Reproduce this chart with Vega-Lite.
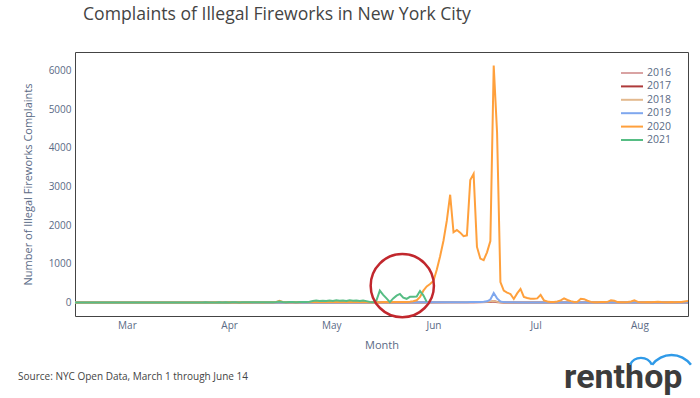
{
"$schema":"https://vega.github.io/schema/vega-lite/v6.json",
"width":613,"height":264,
"autosize":{"type":"none"},
"padding":{"left":75,"top":52,"right":12,"bottom":82},
"background":"white",
"config":{"font":"Open Sans","view":{"stroke":"#444","strokeWidth":1}},
"title":{"text":"Complaints of Illegal Fireworks in New York City","anchor":"start","frame":"group","fontSize":17.6,"fontWeight":"normal","color":"#444","dx":8,"offset":28},
"layer":[
{"data":{"format":{"parse":{"date":"date"}},"values":[
{"date":"2021/03/01","year":"2016","n":2},{"date":"2021/03/15","year":"2016","n":3},{"date":"2021/03/29","year":"2016","n":2},{"date":"2021/04/12","year":"2016","n":4},{"date":"2021/04/26","year":"2016","n":3},{"date":"2021/05/10","year":"2016","n":5},{"date":"2021/05/24","year":"2016","n":6},{"date":"2021/06/07","year":"2016","n":5},{"date":"2021/06/21","year":"2016","n":8},{"date":"2021/06/28","year":"2016","n":10},{"date":"2021/07/01","year":"2016","n":12},{"date":"2021/07/02","year":"2016","n":15},{"date":"2021/07/03","year":"2016","n":18},{"date":"2021/07/04","year":"2016","n":30},{"date":"2021/07/05","year":"2016","n":12},{"date":"2021/07/06","year":"2016","n":8},{"date":"2021/07/07","year":"2016","n":5},{"date":"2021/07/19","year":"2016","n":4},{"date":"2021/08/02","year":"2016","n":3},{"date":"2021/08/16","year":"2016","n":3},{"date":"2021/08/31","year":"2016","n":2},
{"date":"2021/03/01","year":"2017","n":3},{"date":"2021/03/15","year":"2017","n":2},{"date":"2021/03/29","year":"2017","n":4},{"date":"2021/04/12","year":"2017","n":3},{"date":"2021/04/26","year":"2017","n":5},{"date":"2021/05/10","year":"2017","n":4},{"date":"2021/05/24","year":"2017","n":6},{"date":"2021/06/07","year":"2017","n":7},{"date":"2021/06/21","year":"2017","n":9},{"date":"2021/06/28","year":"2017","n":12},{"date":"2021/07/01","year":"2017","n":14},{"date":"2021/07/02","year":"2017","n":16},{"date":"2021/07/03","year":"2017","n":20},{"date":"2021/07/04","year":"2017","n":35},{"date":"2021/07/05","year":"2017","n":15},{"date":"2021/07/06","year":"2017","n":9},{"date":"2021/07/07","year":"2017","n":6},{"date":"2021/07/19","year":"2017","n":4},{"date":"2021/08/02","year":"2017","n":4},{"date":"2021/08/16","year":"2017","n":3},{"date":"2021/08/31","year":"2017","n":2},
{"date":"2021/03/01","year":"2018","n":2},{"date":"2021/03/15","year":"2018","n":3},{"date":"2021/03/29","year":"2018","n":3},{"date":"2021/04/12","year":"2018","n":4},{"date":"2021/04/26","year":"2018","n":4},{"date":"2021/05/10","year":"2018","n":6},{"date":"2021/05/24","year":"2018","n":5},{"date":"2021/06/07","year":"2018","n":7},{"date":"2021/06/21","year":"2018","n":10},{"date":"2021/06/28","year":"2018","n":14},{"date":"2021/07/01","year":"2018","n":18},{"date":"2021/07/02","year":"2018","n":22},{"date":"2021/07/03","year":"2018","n":28},{"date":"2021/07/04","year":"2018","n":45},{"date":"2021/07/05","year":"2018","n":20},{"date":"2021/07/06","year":"2018","n":12},{"date":"2021/07/07","year":"2018","n":7},{"date":"2021/07/19","year":"2018","n":5},{"date":"2021/08/02","year":"2018","n":4},{"date":"2021/08/16","year":"2018","n":3},{"date":"2021/08/31","year":"2018","n":3},
{"date":"2021/03/01","year":"2019","n":2},{"date":"2021/03/08","year":"2019","n":3},{"date":"2021/03/15","year":"2019","n":2},{"date":"2021/03/22","year":"2019","n":4},{"date":"2021/03/29","year":"2019","n":3},{"date":"2021/04/05","year":"2019","n":4},{"date":"2021/04/12","year":"2019","n":5},{"date":"2021/04/19","year":"2019","n":4},{"date":"2021/04/26","year":"2019","n":6},{"date":"2021/05/03","year":"2019","n":5},{"date":"2021/05/10","year":"2019","n":6},{"date":"2021/05/17","year":"2019","n":7},{"date":"2021/05/24","year":"2019","n":6},{"date":"2021/05/31","year":"2019","n":8},{"date":"2021/06/07","year":"2019","n":7},{"date":"2021/06/14","year":"2019","n":9},{"date":"2021/06/19","year":"2019","n":8},{"date":"2021/06/20","year":"2019","n":10},{"date":"2021/06/21","year":"2019","n":12},{"date":"2021/06/22","year":"2019","n":9},{"date":"2021/06/23","year":"2019","n":8},{"date":"2021/06/24","year":"2019","n":10},{"date":"2021/06/25","year":"2019","n":11},{"date":"2021/06/26","year":"2019","n":9},{"date":"2021/06/27","year":"2019","n":14},{"date":"2021/06/28","year":"2019","n":16},{"date":"2021/06/29","year":"2019","n":15},{"date":"2021/06/30","year":"2019","n":20},{"date":"2021/07/01","year":"2019","n":22},{"date":"2021/07/02","year":"2019","n":35},{"date":"2021/07/03","year":"2019","n":80},{"date":"2021/07/04","year":"2019","n":250},{"date":"2021/07/05","year":"2019","n":110},{"date":"2021/07/06","year":"2019","n":30},{"date":"2021/07/07","year":"2019","n":14},{"date":"2021/07/08","year":"2019","n":10},{"date":"2021/07/09","year":"2019","n":8},{"date":"2021/07/13","year":"2019","n":6},{"date":"2021/07/17","year":"2019","n":5},{"date":"2021/07/21","year":"2019","n":6},{"date":"2021/07/25","year":"2019","n":4},{"date":"2021/07/29","year":"2019","n":5},{"date":"2021/08/02","year":"2019","n":4},{"date":"2021/08/06","year":"2019","n":3},{"date":"2021/08/10","year":"2019","n":4},{"date":"2021/08/14","year":"2019","n":3},{"date":"2021/08/18","year":"2019","n":3},{"date":"2021/08/22","year":"2019","n":2},{"date":"2021/08/26","year":"2019","n":3},{"date":"2021/08/31","year":"2019","n":2},
{"date":"2021/03/01","year":"2020","n":3},{"date":"2021/03/02","year":"2020","n":2},{"date":"2021/03/03","year":"2020","n":4},{"date":"2021/03/04","year":"2020","n":3},{"date":"2021/03/05","year":"2020","n":5},{"date":"2021/03/06","year":"2020","n":4},{"date":"2021/03/07","year":"2020","n":3},{"date":"2021/03/08","year":"2020","n":2},{"date":"2021/03/09","year":"2020","n":4},{"date":"2021/03/10","year":"2020","n":5},{"date":"2021/03/11","year":"2020","n":3},{"date":"2021/03/12","year":"2020","n":4},{"date":"2021/03/13","year":"2020","n":2},{"date":"2021/03/14","year":"2020","n":3},{"date":"2021/03/15","year":"2020","n":5},{"date":"2021/03/16","year":"2020","n":4},{"date":"2021/03/17","year":"2020","n":3},{"date":"2021/03/18","year":"2020","n":6},{"date":"2021/03/19","year":"2020","n":4},{"date":"2021/03/20","year":"2020","n":3},{"date":"2021/03/21","year":"2020","n":5},{"date":"2021/03/22","year":"2020","n":4},{"date":"2021/03/23","year":"2020","n":6},{"date":"2021/03/24","year":"2020","n":3},{"date":"2021/03/25","year":"2020","n":4},{"date":"2021/03/26","year":"2020","n":5},{"date":"2021/03/27","year":"2020","n":3},{"date":"2021/03/28","year":"2020","n":4},{"date":"2021/03/29","year":"2020","n":6},{"date":"2021/03/30","year":"2020","n":5},{"date":"2021/03/31","year":"2020","n":4},
{"date":"2021/04/01","year":"2020","n":5},{"date":"2021/04/02","year":"2020","n":4},{"date":"2021/04/03","year":"2020","n":6},{"date":"2021/04/04","year":"2020","n":5},{"date":"2021/04/05","year":"2020","n":7},{"date":"2021/04/06","year":"2020","n":5},{"date":"2021/04/07","year":"2020","n":6},{"date":"2021/04/08","year":"2020","n":4},{"date":"2021/04/09","year":"2020","n":7},{"date":"2021/04/10","year":"2020","n":6},{"date":"2021/04/11","year":"2020","n":5},{"date":"2021/04/12","year":"2020","n":8},{"date":"2021/04/13","year":"2020","n":6},{"date":"2021/04/14","year":"2020","n":7},{"date":"2021/04/15","year":"2020","n":5},{"date":"2021/04/16","year":"2020","n":8},{"date":"2021/04/17","year":"2020","n":6},{"date":"2021/04/18","year":"2020","n":7},{"date":"2021/04/19","year":"2020","n":9},{"date":"2021/04/20","year":"2020","n":6},{"date":"2021/04/21","year":"2020","n":8},{"date":"2021/04/22","year":"2020","n":7},{"date":"2021/04/23","year":"2020","n":9},{"date":"2021/04/24","year":"2020","n":8},{"date":"2021/04/25","year":"2020","n":10},{"date":"2021/04/26","year":"2020","n":7},{"date":"2021/04/27","year":"2020","n":9},{"date":"2021/04/28","year":"2020","n":10},{"date":"2021/04/29","year":"2020","n":8},{"date":"2021/04/30","year":"2020","n":15},
{"date":"2021/05/01","year":"2020","n":45},{"date":"2021/05/02","year":"2020","n":20},{"date":"2021/05/03","year":"2020","n":12},{"date":"2021/05/04","year":"2020","n":14},{"date":"2021/05/05","year":"2020","n":12},{"date":"2021/05/06","year":"2020","n":15},{"date":"2021/05/07","year":"2020","n":13},{"date":"2021/05/08","year":"2020","n":16},{"date":"2021/05/09","year":"2020","n":14},{"date":"2021/05/10","year":"2020","n":18},{"date":"2021/05/11","year":"2020","n":16},{"date":"2021/05/12","year":"2020","n":18},{"date":"2021/05/13","year":"2020","n":15},{"date":"2021/05/14","year":"2020","n":17},{"date":"2021/05/15","year":"2020","n":16},{"date":"2021/05/16","year":"2020","n":18},{"date":"2021/05/17","year":"2020","n":15},{"date":"2021/05/18","year":"2020","n":17},{"date":"2021/05/19","year":"2020","n":19},{"date":"2021/05/20","year":"2020","n":16},{"date":"2021/05/21","year":"2020","n":18},{"date":"2021/05/22","year":"2020","n":17},{"date":"2021/05/23","year":"2020","n":15},{"date":"2021/05/24","year":"2020","n":18},{"date":"2021/05/25","year":"2020","n":16},{"date":"2021/05/26","year":"2020","n":19},{"date":"2021/05/27","year":"2020","n":15},{"date":"2021/05/28","year":"2020","n":13},{"date":"2021/05/29","year":"2020","n":12},{"date":"2021/05/30","year":"2020","n":11},{"date":"2021/05/31","year":"2020","n":12},
{"date":"2021/06/01","year":"2020","n":14},{"date":"2021/06/02","year":"2020","n":15},{"date":"2021/06/03","year":"2020","n":13},{"date":"2021/06/04","year":"2020","n":16},{"date":"2021/06/05","year":"2020","n":15},{"date":"2021/06/06","year":"2020","n":17},{"date":"2021/06/07","year":"2020","n":18},{"date":"2021/06/08","year":"2020","n":20},{"date":"2021/06/09","year":"2020","n":25},{"date":"2021/06/10","year":"2020","n":35},{"date":"2021/06/11","year":"2020","n":60},{"date":"2021/06/12","year":"2020","n":150},{"date":"2021/06/13","year":"2020","n":310},{"date":"2021/06/14","year":"2020","n":420},{"date":"2021/06/15","year":"2020","n":480},{"date":"2021/06/16","year":"2020","n":560},{"date":"2021/06/17","year":"2020","n":850},{"date":"2021/06/18","year":"2020","n":1200},{"date":"2021/06/19","year":"2020","n":1600},{"date":"2021/06/20","year":"2020","n":2120},{"date":"2021/06/21","year":"2020","n":2790},{"date":"2021/06/22","year":"2020","n":1820},{"date":"2021/06/23","year":"2020","n":1880},{"date":"2021/06/24","year":"2020","n":1810},{"date":"2021/06/25","year":"2020","n":1720},{"date":"2021/06/26","year":"2020","n":1740},{"date":"2021/06/27","year":"2020","n":3170},{"date":"2021/06/28","year":"2020","n":3330},{"date":"2021/06/29","year":"2020","n":1440},{"date":"2021/06/30","year":"2020","n":1140},
{"date":"2021/07/01","year":"2020","n":1100},{"date":"2021/07/02","year":"2020","n":1300},{"date":"2021/07/03","year":"2020","n":1590},{"date":"2021/07/04","year":"2020","n":6130},{"date":"2021/07/05","year":"2020","n":4400},{"date":"2021/07/06","year":"2020","n":530},{"date":"2021/07/07","year":"2020","n":310},{"date":"2021/07/08","year":"2020","n":260},{"date":"2021/07/09","year":"2020","n":225},{"date":"2021/07/10","year":"2020","n":96},{"date":"2021/07/11","year":"2020","n":240},{"date":"2021/07/12","year":"2020","n":355},{"date":"2021/07/13","year":"2020","n":150},{"date":"2021/07/14","year":"2020","n":120},{"date":"2021/07/15","year":"2020","n":100},{"date":"2021/07/16","year":"2020","n":100},{"date":"2021/07/17","year":"2020","n":110},{"date":"2021/07/18","year":"2020","n":200},{"date":"2021/07/19","year":"2020","n":60},{"date":"2021/07/20","year":"2020","n":30},{"date":"2021/07/21","year":"2020","n":20},{"date":"2021/07/22","year":"2020","n":20},{"date":"2021/07/23","year":"2020","n":30},{"date":"2021/07/24","year":"2020","n":60},{"date":"2021/07/25","year":"2020","n":110},{"date":"2021/07/26","year":"2020","n":70},{"date":"2021/07/27","year":"2020","n":40},{"date":"2021/07/28","year":"2020","n":20},{"date":"2021/07/29","year":"2020","n":25},{"date":"2021/07/30","year":"2020","n":100},{"date":"2021/07/31","year":"2020","n":90},
{"date":"2021/08/01","year":"2020","n":50},{"date":"2021/08/02","year":"2020","n":20},{"date":"2021/08/03","year":"2020","n":12},{"date":"2021/08/04","year":"2020","n":10},{"date":"2021/08/05","year":"2020","n":20},{"date":"2021/08/06","year":"2020","n":15},{"date":"2021/08/07","year":"2020","n":20},{"date":"2021/08/08","year":"2020","n":60},{"date":"2021/08/09","year":"2020","n":50},{"date":"2021/08/10","year":"2020","n":15},{"date":"2021/08/11","year":"2020","n":10},{"date":"2021/08/12","year":"2020","n":12},{"date":"2021/08/13","year":"2020","n":15},{"date":"2021/08/14","year":"2020","n":30},{"date":"2021/08/15","year":"2020","n":60},{"date":"2021/08/16","year":"2020","n":20},{"date":"2021/08/17","year":"2020","n":12},{"date":"2021/08/18","year":"2020","n":10},{"date":"2021/08/19","year":"2020","n":15},{"date":"2021/08/20","year":"2020","n":12},{"date":"2021/08/21","year":"2020","n":20},{"date":"2021/08/22","year":"2020","n":25},{"date":"2021/08/23","year":"2020","n":15},{"date":"2021/08/24","year":"2020","n":10},{"date":"2021/08/25","year":"2020","n":12},{"date":"2021/08/26","year":"2020","n":15},{"date":"2021/08/27","year":"2020","n":10},{"date":"2021/08/28","year":"2020","n":15},{"date":"2021/08/29","year":"2020","n":20},{"date":"2021/08/30","year":"2020","n":30},{"date":"2021/08/31","year":"2020","n":40},
{"date":"2021/03/01","year":"2021","n":2},{"date":"2021/03/02","year":"2021","n":3},{"date":"2021/03/03","year":"2021","n":2},{"date":"2021/03/04","year":"2021","n":4},{"date":"2021/03/05","year":"2021","n":3},{"date":"2021/03/06","year":"2021","n":2},{"date":"2021/03/07","year":"2021","n":3},{"date":"2021/03/08","year":"2021","n":4},{"date":"2021/03/09","year":"2021","n":3},{"date":"2021/03/10","year":"2021","n":2},{"date":"2021/03/11","year":"2021","n":4},{"date":"2021/03/12","year":"2021","n":3},{"date":"2021/03/13","year":"2021","n":5},{"date":"2021/03/14","year":"2021","n":3},{"date":"2021/03/15","year":"2021","n":4},{"date":"2021/03/16","year":"2021","n":3},{"date":"2021/03/17","year":"2021","n":5},{"date":"2021/03/18","year":"2021","n":4},{"date":"2021/03/19","year":"2021","n":3},{"date":"2021/03/20","year":"2021","n":5},{"date":"2021/03/21","year":"2021","n":4},{"date":"2021/03/22","year":"2021","n":6},{"date":"2021/03/23","year":"2021","n":4},{"date":"2021/03/24","year":"2021","n":5},{"date":"2021/03/25","year":"2021","n":3},{"date":"2021/03/26","year":"2021","n":5},{"date":"2021/03/27","year":"2021","n":6},{"date":"2021/03/28","year":"2021","n":4},{"date":"2021/03/29","year":"2021","n":5},{"date":"2021/03/30","year":"2021","n":6},{"date":"2021/03/31","year":"2021","n":5},
{"date":"2021/04/01","year":"2021","n":5},{"date":"2021/04/02","year":"2021","n":6},{"date":"2021/04/03","year":"2021","n":4},{"date":"2021/04/04","year":"2021","n":7},{"date":"2021/04/05","year":"2021","n":5},{"date":"2021/04/06","year":"2021","n":6},{"date":"2021/04/07","year":"2021","n":7},{"date":"2021/04/08","year":"2021","n":5},{"date":"2021/04/09","year":"2021","n":8},{"date":"2021/04/10","year":"2021","n":6},{"date":"2021/04/11","year":"2021","n":7},{"date":"2021/04/12","year":"2021","n":6},{"date":"2021/04/13","year":"2021","n":8},{"date":"2021/04/14","year":"2021","n":7},{"date":"2021/04/15","year":"2021","n":9},{"date":"2021/04/16","year":"2021","n":6},{"date":"2021/04/17","year":"2021","n":8},{"date":"2021/04/18","year":"2021","n":10},{"date":"2021/04/19","year":"2021","n":7},{"date":"2021/04/20","year":"2021","n":9},{"date":"2021/04/21","year":"2021","n":8},{"date":"2021/04/22","year":"2021","n":10},{"date":"2021/04/23","year":"2021","n":9},{"date":"2021/04/24","year":"2021","n":12},{"date":"2021/04/25","year":"2021","n":10},{"date":"2021/04/26","year":"2021","n":11},{"date":"2021/04/27","year":"2021","n":13},{"date":"2021/04/28","year":"2021","n":10},{"date":"2021/04/29","year":"2021","n":12},{"date":"2021/04/30","year":"2021","n":20},
{"date":"2021/05/01","year":"2021","n":30},{"date":"2021/05/02","year":"2021","n":15},{"date":"2021/05/03","year":"2021","n":12},{"date":"2021/05/04","year":"2021","n":14},{"date":"2021/05/05","year":"2021","n":15},{"date":"2021/05/06","year":"2021","n":13},{"date":"2021/05/07","year":"2021","n":16},{"date":"2021/05/08","year":"2021","n":18},{"date":"2021/05/09","year":"2021","n":20},{"date":"2021/05/10","year":"2021","n":25},{"date":"2021/05/11","year":"2021","n":45},{"date":"2021/05/12","year":"2021","n":55},{"date":"2021/05/13","year":"2021","n":45},{"date":"2021/05/14","year":"2021","n":50},{"date":"2021/05/15","year":"2021","n":40},{"date":"2021/05/16","year":"2021","n":55},{"date":"2021/05/17","year":"2021","n":45},{"date":"2021/05/18","year":"2021","n":60},{"date":"2021/05/19","year":"2021","n":50},{"date":"2021/05/20","year":"2021","n":55},{"date":"2021/05/21","year":"2021","n":45},{"date":"2021/05/22","year":"2021","n":60},{"date":"2021/05/23","year":"2021","n":50},{"date":"2021/05/24","year":"2021","n":55},{"date":"2021/05/25","year":"2021","n":45},{"date":"2021/05/26","year":"2021","n":55},{"date":"2021/05/27","year":"2021","n":40},{"date":"2021/05/28","year":"2021","n":20},{"date":"2021/05/29","year":"2021","n":10},{"date":"2021/05/30","year":"2021","n":60},{"date":"2021/05/31","year":"2021","n":310},
{"date":"2021/06/01","year":"2021","n":200},{"date":"2021/06/02","year":"2021","n":110},{"date":"2021/06/03","year":"2021","n":15},{"date":"2021/06/04","year":"2021","n":110},{"date":"2021/06/05","year":"2021","n":180},{"date":"2021/06/06","year":"2021","n":225},{"date":"2021/06/07","year":"2021","n":130},{"date":"2021/06/08","year":"2021","n":100},{"date":"2021/06/09","year":"2021","n":150},{"date":"2021/06/10","year":"2021","n":155},{"date":"2021/06/11","year":"2021","n":160},{"date":"2021/06/12","year":"2021","n":300},{"date":"2021/06/13","year":"2021","n":190},{"date":"2021/06/14","year":"2021","n":20}
]},
"mark":{"type":"line","strokeWidth":2},
"encoding":{
"x":{"field":"date","type":"temporal","title":"Month",
"scale":{"domain":[{"year":2021,"month":3,"date":1},{"year":2021,"month":8,"date":31}]},
"axis":{"values":[{"year":2021,"month":3,"date":16,"hours":12},{"year":2021,"month":4,"date":16},{"year":2021,"month":5,"date":16,"hours":12},{"year":2021,"month":6,"date":16},{"year":2021,"month":7,"date":16,"hours":12},{"year":2021,"month":8,"date":16,"hours":12}],"format":"%b","grid":false,"ticks":false,"domain":false,"labelFontSize":10,"labelColor":"#5a6a85","labelPadding":4,"labelFlush":false,"titleFontSize":11,"titleFontWeight":"normal","titleColor":"#5a6a85","titlePadding":9}},
"y":{"field":"n","type":"quantitative","title":"Number of Illegal Fireworks Complaints",
"scale":{"domain":[-345,6480],"nice":false,"zero":false},
"axis":{"values":[0,1000,2000,3000,4000,5000,6000],"format":"d","grid":false,"ticks":false,"domain":false,"labelFontSize":10,"labelColor":"#5a6a85","labelPadding":4,"titleFontSize":11,"titleFontWeight":"normal","titleColor":"#5a6a85","titlePadding":15}},
"color":{"field":"year","type":"nominal",
"scale":{"domain":["2016","2017","2018","2019","2020","2021"],"range":["#d9a3a3","#ae3a3a","#e3b98e","#7fa7ee","#ffa03c","#56bd84"]},
"legend":{"title":null,"orient":"none","legendX":551,"legendY":15,"symbolType":"M-2.2,0H2.2","symbolSize":100,"symbolStrokeWidth":2,"labelFontSize":10.5,"labelColor":"#5a6a85","labelOffset":9,"rowPadding":1.4,"padding":0}}
}},
{"data":{"values":[{}]},
"mark":{"type":"point","shape":"circle","filled":false,"size":4000,"stroke":"#c1272d","strokeWidth":2.5,"opacity":1},
"encoding":{"x":{"datum":{"year":2021,"month":6,"date":6,"hours":17},"type":"temporal"},"y":{"datum":440,"type":"quantitative"}}},
{"data":{"values":[{}]},
"mark":{"type":"text","text":"Source: NYC Open Data, March 1 through June 14","align":"left","baseline":"middle","fontSize":10,"color":"#444","font":"Open Sans"},
"encoding":{"x":{"datum":{"year":2021,"month":2,"date":12},"type":"temporal"},"y":{"datum":-1922,"type":"quantitative"}}},
{"data":{"values":[{}]},
"mark":{"type":"text","text":"renthop","align":"left","baseline":"alphabetic","fontSize":34,"fontWeight":"bold","color":"#3c3c3c","font":"Roboto"},
"encoding":{"x":{"datum":{"year":2021,"month":7,"date":25,"hours":0},"type":"temporal"},"y":{"datum":-2206,"type":"quantitative"}}},
{"data":{"values":[{}]},
"mark":{"type":"arc","theta":-1.13,"theta2":1.13,"outerRadius":13.3,"innerRadius":10.9,"color":"#2f9ae8"},
"encoding":{"x":{"datum":{"year":2021,"month":8,"date":16,"hours":23},"type":"temporal"},"y":{"datum":-1741,"type":"quantitative"}}},
{"data":{"values":[{}]},
"mark":{"type":"arc","theta":-0.94,"theta2":0.94,"outerRadius":25.3,"innerRadius":22.8,"color":"#2f9ae8"},
"encoding":{"x":{"datum":{"year":2021,"month":8,"date":26,"hours":2},"type":"temporal"},"y":{"datum":-1974,"type":"quantitative"}}}
]
}
